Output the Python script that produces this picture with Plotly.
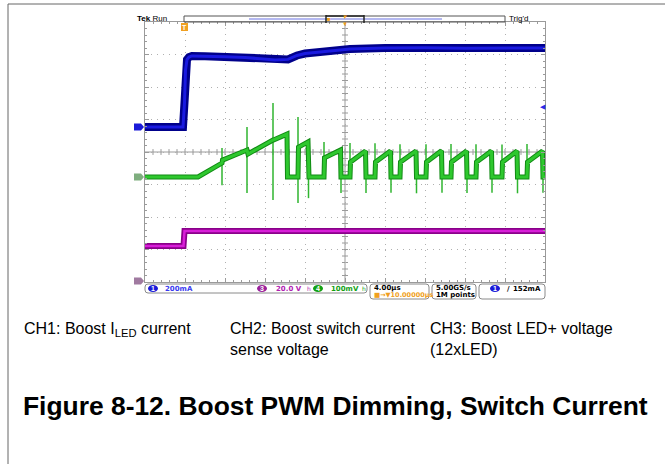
import plotly.graph_objects as go

W, H = 665, 464

# ---------------- data (read from the scope capture) ----------------
# CH1: Boost LED current (mA), 200 mA/div
ch1_t = [0, 3.8, 3.95, 4.05, 4.2, 4.4, 4.7, 6, 8, 10, 12, 13, 14.3, 15.2, 16, 17.5, 19, 20.5, 24, 28, 32, 36, 40]
ch1_ma = [0, 0, 150, 350, 415, 430, 437, 436, 432, 428, 420, 412, 416, 440, 452, 461, 470, 480, 486, 488, 485, 487, 486]

# CH2 (scope ch 4): switch current sense voltage (mV), 100 mV/div
ch2_t = [0, 5.3, 7.7, 7.75, 10.2, 10.3, 12.8, 12.85, 14.2, 14.25, 15.3, 15.35, 16.3, 16.4, 17.9, 17.95, 19.55, 19.6,
         20.5, 20.55, 22.05, 22.1, 23.0, 23.05, 24.55, 24.6, 25.5, 25.55, 27.1, 27.15,
         28.1, 28.15, 29.65, 29.7, 30.6, 30.65, 32.15, 32.2, 33.1, 33.15, 34.65, 34.7,
         35.7, 35.75, 37.2, 37.25, 38.2, 38.25, 39.75, 39.8, 40]
ch2_mv = [0, 0, 43, 52, 83, 71, 114, 114, 132, 0, 0, 92, 108, 0, 0, 59, 83, 0,
          0, 46, 80, 0, 0, 46, 80, 0, 0, 46, 80, 0,
          0, 46, 81, 0, 0, 46, 80, 0, 0, 46, 80, 0,
          0, 46, 80, 0, 0, 46, 80, 0, 0]
# switching spikes on CH2 (time, top, bottom)
spike_t = [7.7, 10.2, 12.8, 15.3, 16.35, 17.9, 19.6, 20.5, 22.1, 23.0, 24.6, 25.5, 27.15,
           28.1, 29.7, 30.6, 32.2, 33.1, 34.7, 35.7, 37.25, 38.2, 39.8]
spike_hi = [89, 154, 228, 185, 108, 108, 83, 105, 80, 104, 80, 101, 80, 101, 81, 102, 80, 101, 80, 100, 80, 102, 80]
spike_lo = [-25, -49, -71, -80, -65, 0, -49, 0, -49, 0, -48, 0, -50, 0, -48, 0, -49, 0, -48, 0, -50, 0, -48]

# CH3: Boost LED+ voltage (V), 20 V/div
ch3_t = [0, 3.85, 3.95, 10, 20, 30, 40]
ch3_v = [21.6, 21.6, 30.8, 30.9, 30.8, 30.8, 30.8]

CH1_SCALE, CH1_POS = 200.0, 0.77
CH2_SCALE, CH2_POS = 100.0, -0.77
CH3_SCALE, CH3_POS = 20.0, -3.97
TRIG_MA = 123

captions = ["CH1: Boost I<sub>LED</sub> current",
            "CH2: Boost switch current<br>sense voltage",
            "CH3: Boost LED+ voltage<br>(12xLED)"]
title_text = "Figure 8-12. Boost PWM Dimming, Switch Current"


def to_div(vals, scale, pos):
    return [v / scale + pos for v in vals]


def px(x):
    return x / W


def py(y):
    return 1 - y / H


fig = go.Figure()

# traces (two-tone to mimic scope phosphor)
y1 = to_div(ch1_ma, CH1_SCALE, CH1_POS)
fig.add_trace(go.Scatter(x=ch1_t, y=y1, mode="lines", line=dict(color="#00008b", width=8), hoverinfo="skip"))
fig.add_trace(go.Scatter(x=ch1_t, y=y1, mode="lines", line=dict(color="#1a1ae0", width=3), hoverinfo="skip"))

sx, sy = [], []
for t, hi, lo in zip(spike_t, spike_hi, spike_lo):
    sx += [t, t, None]
    sy += [hi / CH2_SCALE + CH2_POS, lo / CH2_SCALE + CH2_POS, None]
fig.add_trace(go.Scatter(x=sx, y=sy, mode="lines", line=dict(color="#2fb52f", width=1.5), hoverinfo="skip"))
y2 = to_div(ch2_mv, CH2_SCALE, CH2_POS)
fig.add_trace(go.Scatter(x=ch2_t, y=y2, mode="lines", line=dict(color="#118a14", width=5), hoverinfo="skip"))
fig.add_trace(go.Scatter(x=ch2_t, y=y2, mode="lines", line=dict(color="#2ec82e", width=3), hoverinfo="skip"))

y3 = to_div(ch3_v, CH3_SCALE, CH3_POS)
fig.add_trace(go.Scatter(x=ch3_t, y=y3, mode="lines", line=dict(color="#8a008a", width=6), hoverinfo="skip"))
fig.add_trace(go.Scatter(x=ch3_t, y=y3, mode="lines", line=dict(color="#d81ed8", width=2.5), hoverinfo="skip"))

shapes = []
anns = []
GR = "#9a9a9a"

# center cross with ticks
shapes.append(dict(type="line", xref="x", yref="y", x0=0, x1=40, y0=0, y1=0, line=dict(color=GR, width=1), layer="below"))
shapes.append(dict(type="line", xref="x", yref="y", x0=20, x1=20, y0=-4, y1=4, line=dict(color=GR, width=1), layer="below"))
for i in range(1, 50):
    shapes.append(dict(type="line", xref="x", yref="y", x0=i * 0.8, x1=i * 0.8, y0=-0.09, y1=0.09,
                       line=dict(color=GR, width=1), layer="below"))
for i in range(-19, 20):
    shapes.append(dict(type="line", xref="x", yref="y", x0=19.7, x1=20.3, y0=i * 0.2, y1=i * 0.2,
                       line=dict(color=GR, width=1), layer="below"))

# page frame
shapes.append(dict(type="line", xref="paper", yref="paper", x0=px(8), x1=1, y0=py(4), y1=py(4), line=dict(color="#666", width=1)))
shapes.append(dict(type="line", xref="paper", yref="paper", x0=px(8), x1=px(8), y0=py(4), y1=0, line=dict(color="#666", width=1)))

# record view bar at top
shapes.append(dict(type="rect", xref="paper", yref="paper", x0=px(184), x1=px(505), y0=py(22), y1=py(16),
                   line=dict(color="#555", width=1)))
shapes.append(dict(type="rect", xref="paper", yref="paper", x0=px(249), x1=px(442), y0=py(20), y1=py(18),
                   line=dict(width=0), fillcolor="#b4b8f0"))
for xx in (326, 364):
    shapes.append(dict(type="line", xref="paper", yref="paper", x0=px(xx), x1=px(xx), y0=py(23), y1=py(15),
                       line=dict(color="#222", width=1.5)))
shapes.append(dict(type="line", xref="paper", yref="paper", x0=px(326), x1=px(364), y0=py(16), y1=py(16),
                   line=dict(color="#222", width=1.5)))


def ann(x, y, text, size, color="black", family="Liberation Sans, Arial", xanchor="left", yanchor="middle", **kw):
    anns.append(dict(xref="paper", yref="paper", x=px(x), y=py(y), text=text, showarrow=False,
                     font=dict(size=size, color=color, family=family), xanchor=xanchor, yanchor=yanchor, **kw))


ann(135, 18, "<b>Tek</b> Run", 8)
ann(507, 18, "Trig'd", 8)
ann(329, 19, "■", 6, color="#f0a020", xanchor="center")
ann(345, 17, "▼", 6, color="#f0a020", xanchor="center")
ann(345, 24, "▼", 6, color="#f0a020", xanchor="center")
# trigger position marker
shapes.append(dict(type="rect", xref="paper", yref="paper", x0=px(181), x1=px(188), y0=py(31), y1=py(23),
                   line=dict(width=0), fillcolor="#f0a020"))
ann(184.5, 27, "<b>T</b>", 7, color="white", xanchor="center")


# channel ground markers (left) and trigger level (right)
def tab(ydiv, color):
    y_pix = 152 - ydiv * 32.5
    x0, x1, x2 = 134, 141, 144
    path = (f"M {px(x0)},{py(y_pix - 3.5)} L {px(x1)},{py(y_pix - 3.5)} L {px(x2)},{py(y_pix)} "
            f"L {px(x1)},{py(y_pix + 3.5)} L {px(x0)},{py(y_pix + 3.5)} Z")
    shapes.append(dict(type="path", xref="paper", yref="paper", path=path, line=dict(width=0), fillcolor=color))


tab(CH1_POS, "#1a1ad8")
tab(CH2_POS, "#7fae7f")
tab(CH3_POS, "#a07aa0")
trig_y = 152 - (TRIG_MA / CH1_SCALE + CH1_POS) * 32.5
ann(543, trig_y, "◀", 7, color="#2a2ae8", xanchor="center")


# status bar boxes
def rrect(x0, y0, x1, y1, r=3):
    p = (f"M {px(x0 + r)},{py(y0)} L {px(x1 - r)},{py(y0)} Q {px(x1)},{py(y0)} {px(x1)},{py(y0 + r)} "
         f"L {px(x1)},{py(y1 - r)} Q {px(x1)},{py(y1)} {px(x1 - r)},{py(y1)} "
         f"L {px(x0 + r)},{py(y1)} Q {px(x0)},{py(y1)} {px(x0)},{py(y1 - r)} "
         f"L {px(x0)},{py(y0 + r)} Q {px(x0)},{py(y0)} {px(x0 + r)},{py(y0)} Z")
    shapes.append(dict(type="path", xref="paper", yref="paper", path=p, line=dict(color="#8a8a8a", width=1)))


rrect(145, 284, 367, 293)
rrect(370, 284, 429, 299)
rrect(432, 284, 476, 299)
rrect(479, 284, 545, 299)


def oval(xc, yc, color, label):
    shapes.append(dict(type="circle", xref="paper", yref="paper", x0=px(xc - 5), x1=px(xc + 5),
                       y0=py(yc + 3.5), y1=py(yc - 3.5), line=dict(width=0), fillcolor=color))
    ann(xc, yc, "<b>" + label + "</b>", 7, color="white", xanchor="center")


SB = "DejaVu Sans"
oval(153, 288.5, "#1a1ad8", "1")
ann(163, 288.5, "<b>200mA</b>", 7, color="#3a3af0", family=SB)
oval(262, 288.5, "#9a209a", "3")
ann(274, 288.5, "<b>20.0 V</b>", 7, color="#b020b0", family=SB)
ann(305, 288, "h", 6, color="#b020b0", family=SB)
oval(318, 288.5, "#12a012", "4")
ann(329, 288.5, "<b>100mV</b>", 7, color="#12a012", family=SB)
ann(360, 288, "h", 6, color="#12a012", family=SB)
ann(372, 288, "<b>4.00µs</b>", 7, family=SB)
ann(372, 295, "<b>■→▼10.00000µs</b>", 6.5, color="#f0a020", family=SB)
ann(434, 288, "<b>5.00GS/s</b>", 7, family=SB)
ann(434, 295, "<b>1M points</b>", 7, family=SB)
oval(495, 288.5, "#1a1ad8", "1")
ann(505, 288.5, "<b>/</b>", 7, family=SB)
ann(543, 288.5, "<b>152mA</b>", 7, family=SB, xanchor="right")

# captions and figure title
cap_x = [22, 228, 428]
for cx, txt in zip(cap_x, captions):
    anns.append(dict(xref="paper", yref="paper", x=px(cx), y=py(318), text=txt, showarrow=False, align="left",
                     font=dict(size=16, color="black", family="Liberation Sans, Arial"),
                     xanchor="left", yanchor="top"))
ann(21, 406, "<b>" + title_text + "</b>", 26.4)

fig.update_layout(
    width=W, height=H, margin=dict(l=0, r=0, t=0, b=0),
    paper_bgcolor="white", plot_bgcolor="white", showlegend=False,
    shapes=shapes, annotations=anns,
    xaxis=dict(domain=[px(145), px(545)], range=[0, 40], dtick=4, showgrid=True, gridcolor="#b0b0b0",
               griddash="1px,5px", zeroline=False, showline=True, linecolor=GR, mirror="ticks",
               ticks="inside", ticklen=4, tickcolor=GR, showticklabels=False,
               minor=dict(dtick=0.8, ticks="inside", ticklen=2, tickcolor=GR, showgrid=False)),
    yaxis=dict(domain=[py(282), py(22)], range=[-4, 4], dtick=1, showgrid=True, gridcolor="#b0b0b0",
               griddash="1px,5px", zeroline=False, showline=True, linecolor=GR, mirror="ticks",
               ticks="inside", ticklen=4, tickcolor=GR, showticklabels=False,
               minor=dict(dtick=0.2, ticks="inside", ticklen=2, tickcolor=GR, showgrid=False)),
)

fig.write_html("out.html", config={"displayModeBar": False, "staticPlot": True},
               post_script="document.body.style.margin='0px';")
